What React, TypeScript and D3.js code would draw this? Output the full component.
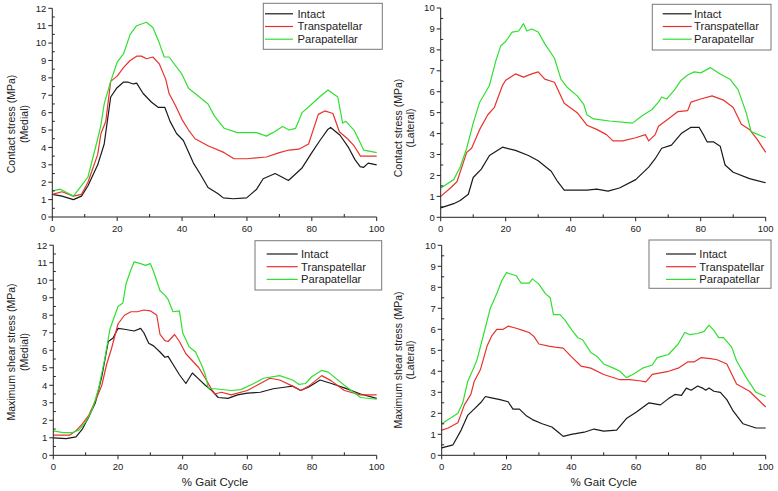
import React from "react";
import * as d3 from "d3";

type Pt = [number, number];

const seriesNames = ["Intact", "Transpatellar", "Parapatellar"];
const seriesColors = ["#1a1a1a", "#e8322c", "#2fe02f"];
const xTicks = [0, 20, 40, 60, 80, 100];
const xLabel = "% Gait Cycle";

// Panel 1: Contact stress (Medial)
const p1Intact: Pt[] = [[0,1.3],[3,1.2],[6.5,1.0],[9,1.2],[11,1.8],[14,3.0],[16,4.2],[18,6.9],[19.8,7.4],[21.9,7.75],[23.4,7.75],[25,7.65],[26,7.7],[28,7.1],[30.6,6.6],[32.7,6.3],[34.7,6.3],[36.3,5.5],[38.3,4.8],[40.4,4.4],[43.5,3.1],[45.5,2.5],[48,1.7],[51,1.35],[52.7,1.1],[55.8,1.05],[59.9,1.1],[63,1.6],[65,2.2],[68.7,2.5],[72.8,2.1],[76.9,2.8],[80,3.7],[82.5,4.4],[85,5.05],[85.8,5.15],[88.7,4.7],[91.3,4.0],[93.3,3.3],[94.9,2.9],[95.9,2.85],[97.4,3.1],[100,3.0]];
const p1Trans: Pt[] = [[0,1.3],[3,1.45],[6.5,1.2],[9,1.3],[11,2.0],[14,3.6],[15,4.8],[16.5,5.5],[18,7.8],[20,8.1],[22,8.6],[24,9.0],[26,9.25],[27.5,9.25],[29,9.1],[31,9.2],[33,8.8],[35,7.9],[36,7.1],[38,6.4],[40,5.6],[42,5.0],[44,4.5],[48,4.1],[53,3.7],[56,3.35],[60,3.35],[66,3.45],[70,3.7],[73,3.85],[76,3.9],[79,4.2],[82,5.9],[84,6.1],[86.5,5.95],[88.5,4.9],[91,4.5],[93,4.1],[95,3.5],[100,3.5]];
const p1Para: Pt[] = [[0,1.5],[2.5,1.6],[6.5,1.2],[9,1.8],[11,2.3],[14,4.5],[15,5.3],[16,6.5],[18,7.8],[20,8.9],[22,9.4],[24,10.5],[26,11.0],[29,11.2],[31,10.9],[33,10.0],[34.5,9.2],[36,9.2],[40,8.2],[42,7.4],[44,7.1],[46,6.8],[48,6.5],[50,5.8],[53,5.1],[57,4.85],[60,4.85],[63,4.85],[66,4.65],[68,4.85],[71,5.2],[73,5.0],[75,5.1],[77,6.0],[80,6.5],[83,7.0],[85,7.3],[88,6.9],[89.5,5.4],[90.5,5.5],[93,5.0],[96,3.85],[100,3.7]];

// Panel 2: Contact stress (Lateral)
const p2Intact: Pt[] = [[0,0.45],[4,0.65],[6,0.8],[8.5,1.1],[10,1.9],[12.5,2.3],[15,2.95],[19,3.35],[23,3.2],[27,2.95],[30,2.7],[34,2.2],[36,1.7],[38,1.3],[45,1.3],[48,1.35],[51.5,1.25],[55,1.4],[60,1.8],[64,2.4],[66,2.8],[68,3.3],[71,3.45],[74,4.0],[77,4.3],[79.5,4.3],[81,3.9],[82,3.6],[84,3.6],[86,3.4],[87.5,2.5],[90,2.15],[95,1.85],[100,1.65]];
const p2Trans: Pt[] = [[0,1.0],[3,1.4],[5,1.7],[8,3.1],[9.5,3.3],[12,4.2],[14.5,4.9],[16.5,5.25],[19,6.3],[20,6.55],[23,6.85],[25.5,6.7],[28,6.85],[30,6.95],[32,6.6],[35,6.45],[38,5.45],[42,5.0],[45,4.4],[48,4.2],[51,3.95],[53,3.65],[56,3.65],[60,3.8],[63,3.95],[64,3.65],[66,3.95],[67,4.35],[70,4.7],[73,5.05],[76,5.1],[77,5.5],[80,5.65],[83.5,5.8],[87,5.6],[90,5.25],[92.5,4.45],[95,4.2],[97.5,3.7],[100,3.1]];
const p2Para: Pt[] = [[0,1.4],[4,1.8],[6,2.4],[8,3.3],[10,4.5],[12,5.5],[15,6.3],[17,7.5],[18.5,8.2],[20,8.4],[22,8.85],[24,8.9],[25.5,9.25],[26.5,8.9],[28,9.0],[30,8.85],[32,8.3],[35,7.6],[37,6.6],[39,6.2],[42,5.8],[44,5.4],[45,4.9],[47,4.7],[52,4.6],[59,4.5],[62,4.85],[65,5.15],[67,5.5],[68,5.75],[69.5,5.65],[72,6.1],[74,6.55],[76,6.8],[78,6.95],[80,6.9],[83,7.15],[86,6.85],[89,6.6],[91.5,6.1],[94,5.0],[95.5,4.1],[97,4.0],[100,3.8]];

// Panel 3: Maximum shear stress (Medial)
const p3Intact: Pt[] = [[0,1.0],[4,0.95],[7,1.05],[9,1.5],[11,2.2],[13,3.0],[15,4.5],[17,6.5],[18.5,6.7],[20,7.25],[22,7.2],[25,7.1],[27,7.25],[28,7.0],[29.5,6.4],[31,6.25],[33,5.9],[34.5,5.6],[35.5,5.65],[37,5.2],[39,4.6],[41,4.1],[43,4.7],[45,4.35],[47,4.0],[49,3.7],[51,3.3],[54,3.25],[57,3.45],[60,3.55],[64,3.6],[68,3.8],[72,3.9],[74,3.95],[76.5,3.7],[79,3.9],[82.5,4.3],[86,4.1],[90,3.85],[95,3.5],[100,3.25]];
const p3Trans: Pt[] = [[0,1.15],[5,1.15],[7,1.4],[9,1.8],[11,2.3],[13,3.1],[15,4.0],[16.5,5.2],[18,6.1],[20,7.5],[22,8.0],[24,8.2],[26,8.2],[28,8.3],[30,8.25],[32,8.0],[33,6.9],[34.5,6.55],[35.5,6.5],[37.5,6.9],[39,6.5],[41,5.8],[43,5.4],[45,5.0],[47,4.4],[49,3.75],[50,3.5],[52,3.6],[55,3.45],[60,3.7],[63,4.0],[67,4.4],[70,4.3],[74,3.95],[76.5,3.7],[79,3.95],[83,4.55],[86,4.25],[90,3.7],[95,3.45],[100,3.45]];
const p3Para: Pt[] = [[0,1.4],[3,1.3],[6,1.3],[8,1.45],[10,1.9],[12,2.6],[14,3.8],[16,5.6],[17.5,7.2],[20,8.5],[21.5,8.7],[22.5,9.8],[24,10.6],[25,11.05],[27,10.95],[28.5,10.85],[30,10.95],[31,10.5],[33,9.4],[34.5,9.15],[35.5,8.9],[37,8.2],[39,8.25],[40,7.0],[42,6.2],[44,5.9],[46,5.1],[47,4.6],[48,3.8],[50,3.8],[55,3.7],[58,3.75],[62,4.1],[65,4.4],[70,4.55],[74,4.3],[76,4.05],[78,4.1],[80,4.5],[83,4.85],[85,4.75],[90,4.0],[95,3.3],[100,3.2]];

// Panel 4: Maximum shear stress (Lateral)
const p4Intact: Pt[] = [[0,0.35],[3.5,0.5],[6,1.2],[8,1.9],[10,2.2],[12,2.5],[13.5,2.8],[15,2.75],[18,2.65],[20.5,2.55],[22,2.2],[24,2.2],[26,1.9],[28,1.7],[31,1.5],[34,1.35],[36,1.1],[37.5,0.9],[40,1.0],[44,1.1],[47,1.25],[50,1.15],[54,1.2],[57,1.75],[60,2.05],[64,2.5],[67.5,2.4],[70,2.7],[72,2.9],[74,2.85],[75.5,3.2],[77,3.1],[79,3.3],[80.5,3.2],[81.5,3.1],[82.5,3.2],[84,3.05],[86,3.0],[88,2.65],[90,2.1],[93,1.5],[97,1.3],[100,1.3]];
const p4Trans: Pt[] = [[0,1.2],[2,1.3],[5,1.55],[7,2.4],[9,2.9],[10,3.5],[12,4.1],[14,5.2],[15.5,5.7],[17,6.0],[19,6.0],[20.5,6.15],[23,6.05],[25,5.95],[27,5.85],[28.5,5.65],[30,5.3],[33,5.2],[35,5.15],[37.5,5.1],[40,4.7],[43,4.25],[46,4.15],[50,3.85],[55,3.6],[58,3.6],[61,3.55],[63,3.5],[65,3.85],[70,4.0],[73,4.15],[76,4.45],[78,4.45],[80,4.65],[83,4.6],[85,4.55],[88,4.35],[91,3.4],[95,3.05],[100,2.3]];
const p4Para: Pt[] = [[0,1.5],[3,1.8],[5,2.0],[6.5,2.5],[8,3.5],[10,4.2],[11,4.6],[13,5.8],[15,7.0],[17,7.7],[18.5,8.3],[20,8.7],[22,8.6],[23,8.55],[24.5,8.2],[27,8.2],[28,8.4],[30,8.15],[32,7.7],[33.5,7.5],[34.5,6.7],[36.5,6.7],[38,6.45],[40,6.0],[42,5.6],[43.5,5.5],[46,4.9],[48,4.7],[50,4.35],[53,4.15],[55,4.0],[57,3.7],[59,3.85],[62,4.15],[65,4.3],[66.5,4.65],[70,4.8],[73,5.3],[75,5.85],[76.5,5.75],[79,5.8],[81,5.9],[82.5,6.2],[84,5.95],[85.5,5.6],[87,5.6],[89.5,5.15],[91,4.5],[94,3.7],[97,3.0],[100,2.8]];

const yTicks12 = [0,1,2,3,4,5,6,7,8,9,10,11,12];
const yTicks10 = [0,1,2,3,4,5,6,7,8,9,10];

interface PanelCfg {
  x0: number; x1: number; yb: number; yt: number; ymax: number; yTicks: number[];
  series: Pt[][];
  yLabel: [string, string]; labX: [number, number]; labY: number;
  showX: boolean;
  leg: { bx0: number; bx1: number; by0: number; by1: number; rows: number[]; lx0: number; lx1: number; tx: number };
}

const panels: PanelCfg[] = [
  { x0: 52.3, x1: 376.7, yb: 217, yt: 8.3, ymax: 12, yTicks: yTicks12, series: [p1Intact, p1Trans, p1Para],
    yLabel: ["Contact stress (MPa)", "(Medial)"], labX: [11, 24], labY: 124, showX: false,
    leg: { bx0: 263.3, bx1: 382.3, by0: 3.3, by1: 49.3, rows: [13.8, 26.5, 39.2], lx0: 265, lx1: 293, tx: 297.5 } },
  { x0: 440.7, x1: 765.7, yb: 217.3, yt: 8, ymax: 10, yTicks: yTicks10, series: [p2Intact, p2Trans, p2Para],
    yLabel: ["Contact stress (MPa)", "(Lateral)"], labX: [398, 410], labY: 128, showX: false,
    leg: { bx0: 652.3, bx1: 771, by0: 4.3, by1: 50, rows: [13.8, 26.5, 39.2], lx0: 662.7, lx1: 691.7, tx: 694 } },
  { x0: 53.3, x1: 376.7, yb: 455.3, yt: 245.2, ymax: 12, yTicks: yTicks12, series: [p3Intact, p3Trans, p3Para],
    yLabel: ["Maximum shear stress (MPa)", "(Medial)"], labX: [11, 24], labY: 352, showX: true,
    leg: { bx0: 255, bx1: 381.7, by0: 240.7, by1: 290, rows: [254, 266.7, 279.4], lx0: 266.7, lx1: 297.7, tx: 301 } },
  { x0: 441.7, x1: 765.7, yb: 455.3, yt: 245.3, ymax: 10, yTicks: yTicks10, series: [p4Intact, p4Trans, p4Para],
    yLabel: ["Maximum shear stress (MPa)", "(Lateral)"], labX: [398, 410], labY: 360, showX: true,
    leg: { bx0: 649, bx1: 771, by0: 240, by1: 288.3, rows: [254, 266.7, 279.4], lx0: 666, lx1: 696, tx: 699.3 } },
];

const FONT = "Liberation Sans, Arial, sans-serif";

function Panel({ p }: { p: PanelCfg }) {
  const x = d3.scaleLinear().domain([0, 100]).range([p.x0, p.x1]);
  const y = d3.scaleLinear().domain([0, p.ymax]).range([p.yb, p.yt]);
  const line = d3.line<Pt>().x((d) => x(d[0])).y((d) => y(d[1]));
  const xMinor = d3.range(10, 100, 20);
  const yMinor = d3.range(0.5, p.ymax, 1);
  const L = p.leg;
  return (
    <g>
      {p.series.map((s, i) => (
        <path key={i} d={line(s) || ""} fill="none" stroke={seriesColors[i]} strokeWidth={1.2} strokeLinejoin="round" />
      ))}
      <line x1={p.x0} x2={p.x0} y1={y(p.ymax)} y2={p.yb} stroke="#222" strokeWidth={1} />
      <line x1={p.x0} x2={p.x1} y1={p.yb} y2={p.yb} stroke="#222" strokeWidth={1} />
      {p.yTicks.map((t) => (
        <g key={"y" + t}>
          <line x1={p.x0 - 4} x2={p.x0} y1={y(t)} y2={y(t)} stroke="#222" />
          <text x={p.x0 - 6} y={y(t)} dy="0.35em" textAnchor="end" fontSize={9.5} fill="#222" fontFamily={FONT}>{t}</text>
        </g>
      ))}
      {yMinor.map((t) => (
        <line key={"ym" + t} x1={p.x0} x2={p.x0 + 2.5} y1={y(t)} y2={y(t)} stroke="#222" />
      ))}
      {xTicks.map((t) => (
        <g key={"x" + t}>
          <line x1={x(t)} x2={x(t)} y1={p.yb} y2={p.yb + 4} stroke="#222" />
          <text x={x(t)} y={p.yb + 15} textAnchor="middle" fontSize={9.5} fill="#222" fontFamily={FONT}>{t}</text>
        </g>
      ))}
      {xMinor.map((t) => (
        <line key={"xm" + t} x1={x(t)} x2={x(t)} y1={p.yb} y2={p.yb - 3} stroke="#222" />
      ))}
      {p.yLabel.map((s, i) => (
        <text key={s} transform={`translate(${p.labX[i]},${p.labY}) rotate(-90)`} dy="0.35em" textAnchor="middle" fontSize={10.5} fill="#222" fontFamily={FONT}>{s}</text>
      ))}
      {p.showX && (
        <text x={(p.x0 + p.x1) / 2} y={486} textAnchor="middle" fontSize={11.5} fill="#222" fontFamily={FONT}>{xLabel}</text>
      )}
      <rect x={L.bx0} y={L.by0} width={L.bx1 - L.bx0} height={L.by1 - L.by0} fill="#fff" stroke="#777" strokeWidth={1} />
      {seriesNames.map((n, i) => (
        <g key={n}>
          <line x1={L.lx0} x2={L.lx1} y1={L.rows[i]} y2={L.rows[i]} stroke={seriesColors[i]} strokeWidth={1.2} />
          <text x={L.tx} y={L.rows[i]} dy="0.35em" fontSize={11.2} fill="#222" fontFamily={FONT}>{n}</text>
        </g>
      ))}
    </g>
  );
}

export default function App() {
  return (
    <svg width={778} height={491} style={{ position: "absolute", left: 0, top: 0, background: "#fff" }}>
      <rect width={778} height={491} fill="#fff" />
      {panels.map((p, i) => <Panel key={i} p={p} />)}
    </svg>
  );
}
